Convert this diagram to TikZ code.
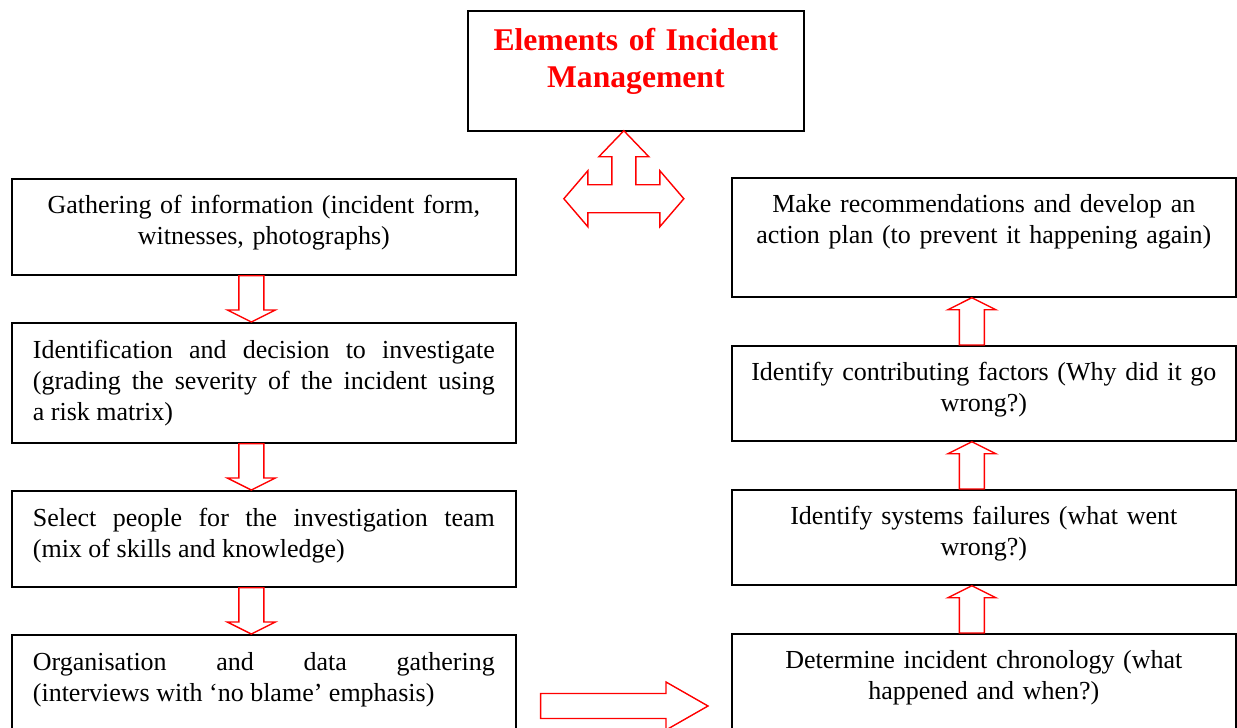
\documentclass[tikz,border=0pt]{standalone}
\usepackage{fontspec}
\setmainfont{Liberation Serif}
\usetikzlibrary{calc}

\tikzset{
  box/.style={draw, line width=1pt, anchor=north west, inner xsep=0.42cm, inner ysep=0pt,
    text width=9.24cm, font=\fontsize{14.8}{17.6}\selectfont},
  rbox/.style={box, inner xsep=0.3cm, text width=9.48cm, align=center},
  hollow/.style={draw=red, line width=0.8pt, line join=miter},
}

% hollow block arrow from #2 to #3, head length #1
\newcommand{\hollowarrow}[3][0.24cm]{%
  \coordinate (ha-s) at (#2);
  \coordinate (ha-t) at (#3);
  \coordinate (ha-h) at ($(ha-t)!#1!(ha-s)$);
  \draw[hollow] ($(ha-s)!0.25cm!90:(ha-t)$) -- ($(ha-h)!0.25cm!-90:(ha-s)$)
    -- ($(ha-h)!0.48cm!-90:(ha-s)$) -- (ha-t) -- ($(ha-h)!0.48cm!90:(ha-s)$)
    -- ($(ha-h)!0.25cm!90:(ha-s)$) -- ($(ha-s)!0.25cm!-90:(ha-t)$) -- cycle;}

\begin{document}
\begin{tikzpicture}[x=0.02cm, y=-0.02cm]
            \useasboundingbox (0,0) rectangle (1237,727);
            \node[box, inner xsep=0.1cm, text width=6.52cm, align=center, text height=0.8cm, text depth=1.6cm,
                  font=\fontsize{18}{21}\selectfont\bfseries, text=red] (title) at (467,10)
                  {Elements of Incident\\ Management};
            % left column
            \node[box, align=center, text height=0.70cm, text depth=1.22cm] (gather) at (11,178)
                  {Gathering of information (incident form,\\ witnesses, photographs)};
            \node[box, align=justify, text height=0.72cm, text depth=1.68cm] (decide) at (11,322)
                  {Identification and decision to investigate\linebreak (grading the severity of the incident using\linebreak a risk matrix)};
            \node[box, align=justify, text height=0.72cm, text depth=1.20cm] (team) at (11,490)
                  {Select people for the investigation team\linebreak (mix of skills and knowledge)};
            \node[box, align=justify, text height=0.72cm, text depth=1.68cm] (organise) at (11,634)
                  {Organisation and data gathering\linebreak (interviews with ‘no blame’ emphasis)};
            % right column
            \node[rbox, text height=0.70cm, text depth=1.68cm] (plan) at (731,177)
                  {Make recommendations and develop an\\ action plan (to prevent it happening again)};
            \node[rbox, text height=0.70cm, text depth=1.20cm] (factors) at (731,345)
                  {Identify contributing factors (Why did it go\\ wrong?)};
            \node[rbox, text height=0.70cm, text depth=1.20cm] (failures) at (731,489)
                  {Identify systems failures (what went\\ wrong?)};
            \node[rbox, text height=0.70cm, text depth=1.68cm] (chrono) at (731,633)
                  {Determine incident chronology (what\\ happened and when?)};
            % arrows
            \hollowarrow{[xshift=-0.25cm]gather.south}{[xshift=-0.25cm]decide.north}
            \hollowarrow{[xshift=-0.25cm]decide.south}{[xshift=-0.25cm]team.north}
            \hollowarrow{[xshift=-0.25cm]team.south}{[xshift=-0.25cm]organise.north}
            \hollowarrow[0.84cm]{[xshift=0.48cm, yshift=-1.44cm]organise.north east}{[xshift=-0.46cm, yshift=-1.46cm]chrono.north west}
            \hollowarrow{[xshift=-0.24cm]chrono.north}{[xshift=-0.24cm]failures.south}
            \hollowarrow{[xshift=-0.24cm]failures.north}{[xshift=-0.24cm]factors.south}
            \hollowarrow{[xshift=-0.24cm]factors.north}{[xshift=-0.24cm]plan.south}
            \coordinate (tip) at ([xshift=-0.24cm, yshift=0.02cm]title.south);
            \draw[hollow, shift={(tip)}] (0,0) -- (25,26) -- (12,26) -- (12,54) -- (36,54) -- (36,40) -- (60,68)
                -- (36,96) -- (36,82) -- (-36,82) -- (-36,96) -- (-60,68) -- (-36,40) -- (-36,54)
                -- (-12,54) -- (-12,26) -- (-25,26) -- cycle;
        \end{tikzpicture}
\end{document}
